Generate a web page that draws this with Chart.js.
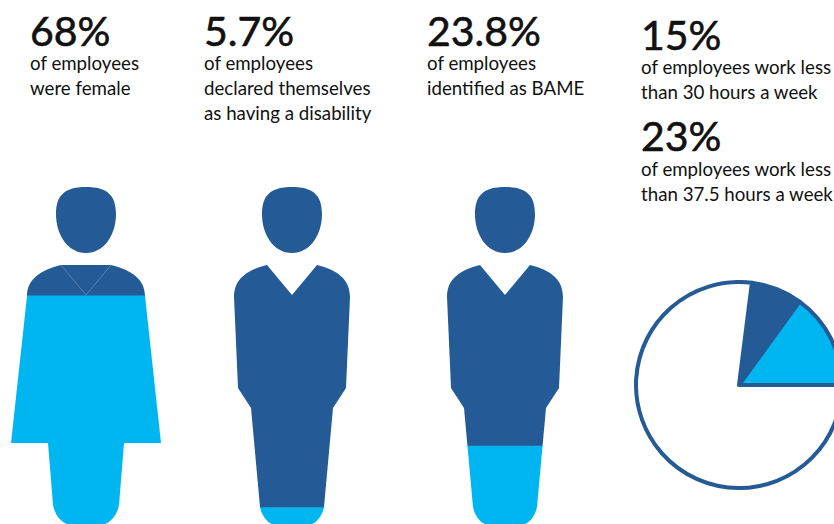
<!DOCTYPE html>
<html>
<head>
<meta charset="utf-8">
<title>Workforce diversity figures</title>
<script src="https://cdn.jsdelivr.net/npm/chart.js@4"></script>
<style>
  html, body { margin: 0; padding: 0; background: #fff; }
  #stage { position: relative; width: 834px; height: 524px; overflow: hidden; font-family: Lato, sans-serif; color: #111; }
  #stage canvas { position: absolute; }
  .big, .line { position: absolute; white-space: nowrap; }
  .big { font-size: 41px; font-weight: 400; line-height: 40px; -webkit-text-stroke: 0.6px #111; }
  .line { font-size: 18.7px; line-height: 24px; }
</style>
</head>
<body>
<div id="stage"></div>
<script>
// Values shown in the figure
const groupNames = ["female", "disability", "BAME"];
const groupShares = [68, 5.7, 23.8];
const groupRemainders = [32, 94.3, 76.2];
const hoursBands = ["between 30 and 37.5 hours", "under 30 hours", "37.5 hours or more"];
const hoursShares = [8, 15, 77];

const groupCaptions = [
  ["68%", "of employees", "were female"],
  ["5.7%", "of employees", "declared themselves", "as having a disability"],
  ["23.8%", "of employees", "identified as BAME"]
];
const hoursCaptions = [
  ["15%", "of employees work less", "than 30 hours a week"],
  ["23%", "of employees work less", "than 37.5 hours a week"]
];

const NAVY = "#245a96";
const CYAN = "#00b6f1";
const FIGURE_WIDTH = 160;
const FIGURE_HEIGHT = 340;
const FIGURE_TOP = 187;

const stage = document.getElementById("stage");

function addText(cls, text, x, y) {
  const el = document.createElement("div");
  el.className = cls;
  el.textContent = text;
  el.style.left = x + "px";
  el.style.top = y + "px";
  stage.appendChild(el);
}

// A percentage heading followed by its caption lines
function addCaption(lines, x, headY, firstLineY) {
  addText("big", lines[0], x, headY);
  lines.slice(1).forEach((line, i) => addText("line", line, x, firstLineY + i * 25));
}

// Silhouettes, in pixels relative to the figure's centre line and top edge
const HEAD = "M0,0 C21,0 30,8 30,27 C30,48 18,66 0,66 C-18,66 -30,48 -30,27 C-30,8 -21,0 0,0 Z ";
const WOMAN = new Path2D(HEAD +
  "M-25,78 L25,78 C45,83 59,92 59,109 L75,256 L38,256 L33,318 C31,330 22,339 10,339 " +
  "L-10,339 C-22,339 -31,330 -33,318 L-38,256 L-75,256 L-59,109 C-59,92 -45,83 -25,78 Z");
const MAN = new Path2D(HEAD +
  "M-25,78 L0,108 L25,78 C45,83 58,92 58,110 L54,201 L41,221 L32,320 C30,331 22,339 12,339 " +
  "L-12,339 C-22,339 -30,331 -32,320 L-41,221 L-54,201 L-58,110 C-58,92 -45,83 -25,78 Z");

// Confines a chart's bars to a silhouette so that the bars read as a fill level
function silhouetteClip(path, drawCollar) {
  return {
    id: "silhouetteClip",
    beforeDatasetsDraw(chart) {
      const ctx = chart.ctx;
      ctx.save();
      ctx.translate(FIGURE_WIDTH / 2, 0);
      ctx.clip(path);
      ctx.translate(-FIGURE_WIDTH / 2, 0);
    },
    afterDatasetsDraw(chart) {
      const ctx = chart.ctx;
      ctx.restore();
      if (drawCollar) {
        const c = FIGURE_WIDTH / 2;
        ctx.save();
        ctx.strokeStyle = "rgba(255,255,255,0.35)";
        ctx.lineWidth = 0.7;
        ctx.beginPath();
        ctx.moveTo(c - 25, 78);
        ctx.lineTo(c, 108);
        ctx.lineTo(c + 25, 78);
        ctx.stroke();
        ctx.restore();
      }
    }
  };
}

function addCanvas(left, top, width, height) {
  const canvas = document.createElement("canvas");
  canvas.width = width;
  canvas.height = height;
  canvas.style.left = left + "px";
  canvas.style.top = top + "px";
  canvas.style.width = width + "px";
  canvas.style.height = height + "px";
  stage.appendChild(canvas);
  return canvas;
}

function addFigure(index, centreX, path, drawCollar) {
  const canvas = addCanvas(centreX - FIGURE_WIDTH / 2, FIGURE_TOP, FIGURE_WIDTH, FIGURE_HEIGHT);
  new Chart(canvas, {
    type: "bar",
    data: {
      labels: [groupNames[index]],
      datasets: [
        { data: [groupShares[index]], backgroundColor: CYAN, borderWidth: 0, barPercentage: 1, categoryPercentage: 1 },
        { data: [groupRemainders[index]], backgroundColor: NAVY, borderWidth: 0, barPercentage: 1, categoryPercentage: 1 }
      ]
    },
    options: {
      responsive: false,
      animation: false,
      layout: { padding: 0 },
      plugins: { legend: { display: false }, tooltip: { enabled: false } },
      scales: {
        x: { stacked: true, display: false },
        y: { stacked: true, display: false, min: 0, max: 100 }
      }
    },
    plugins: [silhouetteClip(path, drawCollar)]
  });
}

addFigure(0, 86, WOMAN, true);
addFigure(1, 292, MAN, false);
addFigure(2, 505, MAN, false);

// Pie of working hours; the circle runs off the right edge of the stage
new Chart(addCanvas(634, 280, 210, 210), {
  type: "pie",
  data: {
    labels: hoursBands,
    datasets: [{
      data: hoursShares,
      backgroundColor: [NAVY, CYAN, "#ffffff"],
      borderColor: NAVY,
      borderWidth: 4,
      borderJoinStyle: "round"
    }]
  },
  options: {
    responsive: false,
    animation: false,
    rotation: 7.2,
    layout: { padding: 0 },
    plugins: { legend: { display: false }, tooltip: { enabled: false } }
  }
});

addCaption(groupCaptions[0], 30, 11, 51);
addCaption(groupCaptions[1], 204, 11, 51);
addCaption(groupCaptions[2], 427, 11, 51);
addCaption(hoursCaptions[0], 641, 15, 55);
addCaption(hoursCaptions[1], 641, 116, 157);
</script>
</body>
</html>
